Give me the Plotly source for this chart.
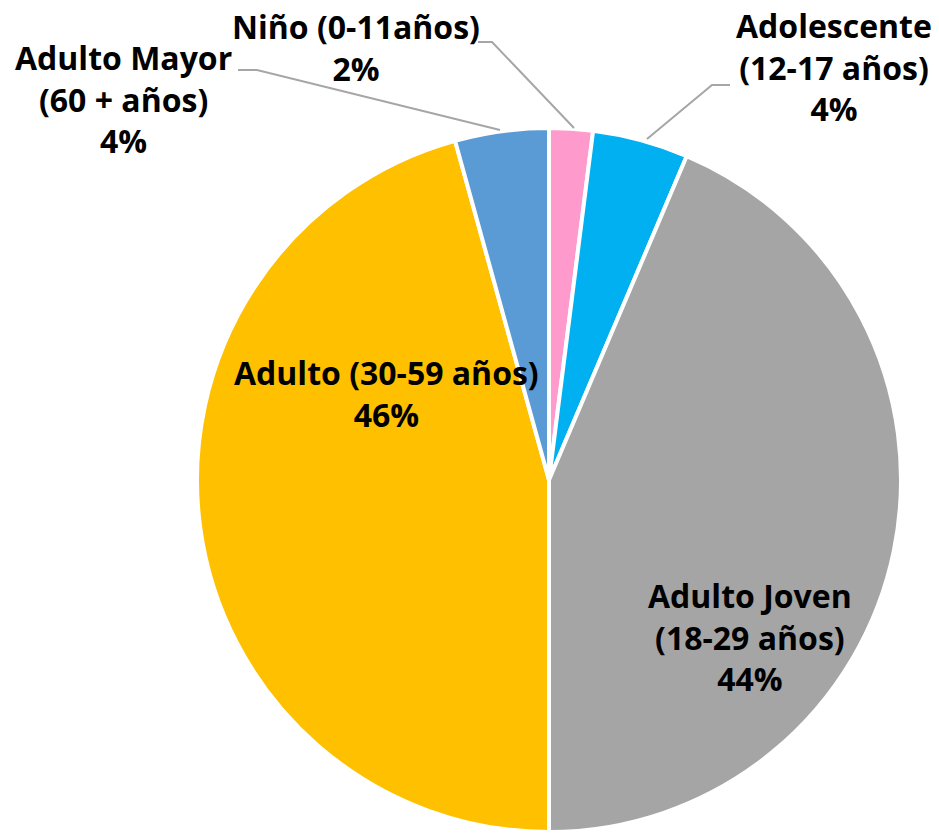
import plotly.graph_objects as go

labels = ["Niño (0-11años)", "Adolescente (12-17 años)", "Adulto Joven (18-29 años)",
          "Adulto (30-59 años)", "Adulto Mayor (60 + años)"]
label_text = ["Niño (0-11años)", "Adolescente<br>(12-17 años)", "Adulto Joven<br>(18-29 años)",
              "Adulto (30-59 años)", "Adulto Mayor<br>(60 + años)"]
values = [2.0, 4.4, 43.6, 45.7, 4.3]
colors = ["#FF9BCC", "#00B0F0", "#A5A5A5", "#FFC000", "#5B9BD5"]

W, H = 939, 834

def px(x):
    return x / W

def py(y):
    return 1 - y / H

fig = go.Figure(go.Pie(
    labels=labels,
    values=values,
    sort=False,
    direction="clockwise",
    rotation=0,
    marker=dict(colors=colors, line=dict(color="white", width=4)),
    textinfo="none",
    hoverinfo="label+percent",
    showlegend=False,
    domain=dict(x=[px(197), px(901)], y=[py(832), py(128)]),
))

total = sum(values)
# label block centres (pixels) for each slice
label_pos = [(356, 48), (834, 67), (750, 637), (386, 394), (123, 99)]
for txt, v, (x, y) in zip(label_text, values, label_pos):
    fig.add_annotation(
        x=px(x), y=py(y), xref="paper", yref="paper",
        text=f"{txt}<br>{round(100 * v / total)}%",
        showarrow=False, xanchor="center", yanchor="middle", align="center",
        font=dict(family="Open Sans", size=32, color="black", weight="bold"),
    )

# leader lines for outside labels
leaders = [
    [(478, 42), (492, 42), (574, 128)],
    [(730, 85), (712, 85), (647, 139)],
    [(238, 70), (257, 70), (500, 130)],
]
for pts in leaders:
    path = "M " + " L ".join(f"{px(a)} {py(b)}" for a, b in pts)
    fig.add_shape(type="path", path=path, xref="paper", yref="paper",
                  line=dict(color="#A6A6A6", width=2))

fig.update_layout(
    width=W, height=H,
    margin=dict(l=0, r=0, t=0, b=0),
    paper_bgcolor="white", plot_bgcolor="white",
)

fig.write_html("out.html", config={"displayModeBar": False},
               post_script="document.body.style.margin='0';")
